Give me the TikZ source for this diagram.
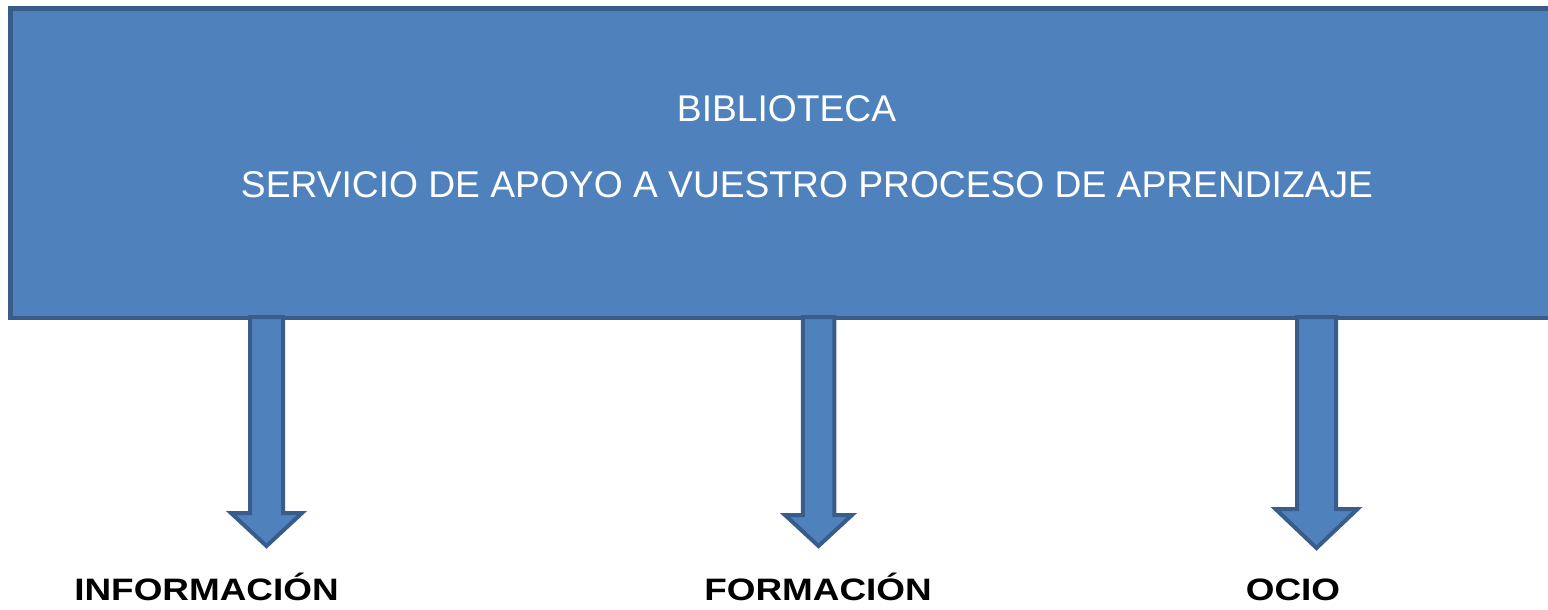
\documentclass[tikz,border=0pt]{standalone}
\usepackage{fontspec}
\setmainfont{Liberation Sans}
\definecolor{boxfill}{HTML}{4F81BD}
\definecolor{boxline}{HTML}{385D8A}
\tikzset{
  mainbox/.style={fill=boxfill, draw=boxline, line width=4.5pt},
  blockarrow/.style={fill=boxfill, draw=boxline, line width=4pt, line join=miter},
  toptext/.style={anchor=base, inner sep=0pt, text=white, font=\fontsize{37.2}{40}\selectfont},
  labeltext/.style={anchor=base, inner sep=0pt, text=black, font=\fontsize{31}{33}\selectfont\bfseries}
}
% #1 center x, #2 half shaft, #3 half head, #4 top y, #5 shoulder y, #6 tip y
\newcommand\mydownarrow[6]{%
  \draw[blockarrow] (#1-#2,#4) -- (#1+#2,#4) -- (#1+#2,#5) -- (#1+#3,#5)
     -- (#1,#6) -- (#1-#3,#5) -- (#1-#2,#5) -- cycle;}
\begin{document}
\begin{tikzpicture}[x=1pt,y=-1pt]
\useasboundingbox (0,0) rectangle (1548,610);
\draw[mainbox] (10.5,8.5) rectangle (1570,318);
\node[toptext] (title) at (786.5,121.7) {BIBLIOTECA};
\node[toptext] (subtitle) at (807,197.3) {SERVICIO DE APOYO A VUESTRO PROCESO DE APRENDIZAJE};
% block arrows
\mydownarrow{266.5}{16.5}{35.5}{317}{513}{546}
\mydownarrow{818.5}{15.75}{33.5}{317}{515}{546}
\mydownarrow{1316.5}{19.5}{41}{317}{509}{548}
\node[labeltext] (info) at (206.5,600) {\scalebox{1.19}[1]{INFORMACIÓN}};
\node[labeltext] (form) at (818,600) {\scalebox{1.19}[1]{FORMACIÓN}};
\node[labeltext] (ocio) at (1293,600) {\scalebox{1.19}[1]{OCIO}};
\end{tikzpicture}
\end{document}
